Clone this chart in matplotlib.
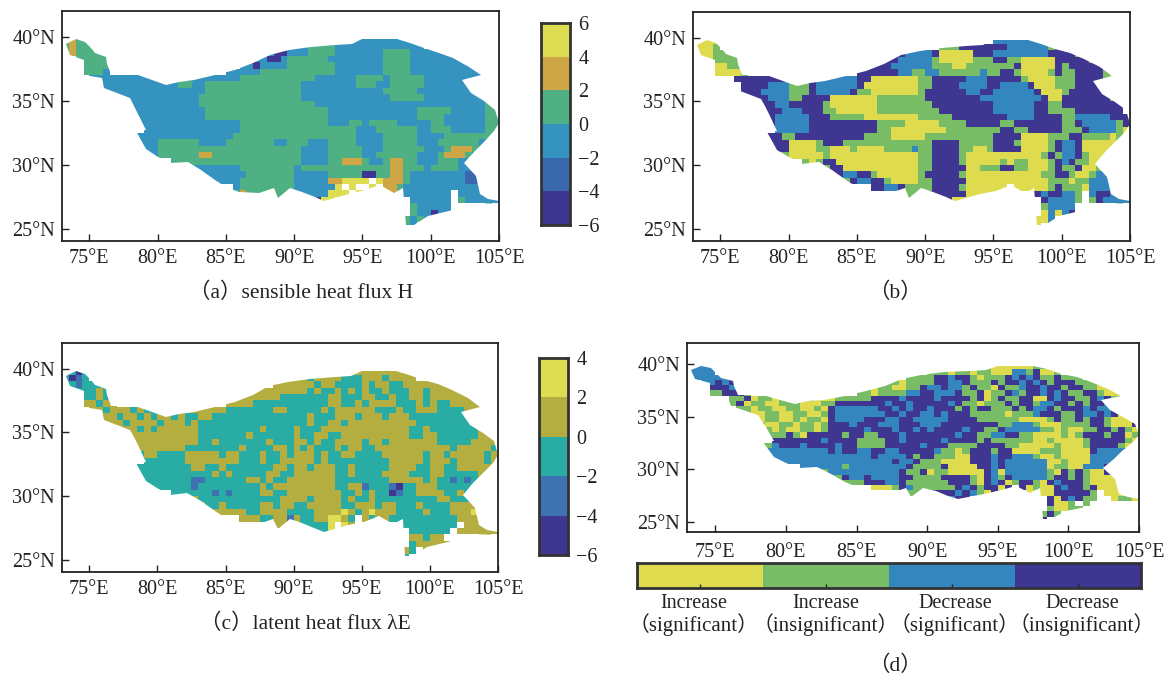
import numpy as np
import matplotlib
matplotlib.use('Agg')
import matplotlib.pyplot as plt
from matplotlib.colors import ListedColormap
from matplotlib.patches import Polygon

W, H = 1165, 679
serif = ['Liberation Serif', 'Noto Sans CJK SC', 'DejaVu Sans']
plt.rcParams['font.family'] = serif

lon_ticks = [75, 80, 85, 90, 95, 100, 105]
lat_ticks = [25, 30, 35, 40]

# plateau border, lon/lat
border_lon = [73.3, 74, 74.7, 75.1, 75.4, 76.25, 76.3, 76.6, 77.5, 78.6, 79.6, 80.65, 81.6, 82.7, 84.2, 85.7, 87, 88.2,
              89.6, 91.2, 93, 94.2, 95, 97.5, 98.5, 99.5, 100.6, 101.6, 102.8, 103.7, 102.3, 102.95, 103.9, 104.7,
              105, 104.6, 103.8, 103.2, 102.45, 103.3, 103.6, 104.2, 105, 105, 103.1, 101.6, 99.8, 98.8,
              98.2, 98, 97.3, 96.3, 95.2, 94, 92.2, 91.5, 90.6, 89.7, 88.85, 88.5, 87.45, 85.95, 85, 84.2, 83.2, 82.2,
              80.9, 80, 79.15, 78.4, 79.15, 78.6, 78.3, 78, 76.1, 75.9, 74.6, 74.6, 73.6]
border_lat = [39.4, 39.8, 39.6, 39.1, 38.7, 38.4, 37.9, 37.1, 37.05, 37, 36.6, 36.2, 36.45, 36.6, 37, 37.4, 37.95, 38.6,
              38.95, 39.2, 39.35, 39.4, 39.8, 39.8, 39.5, 39.1, 38.75, 38.3, 37.65, 37, 36.6, 35.6, 34.95, 34.3,
              33.25, 32.6, 31.7, 31, 30.1, 29.1, 27.7, 27.35, 27.15, 26.95, 27, 26.5, 26, 25.3,
              25.3, 28.2, 27.8, 28.45, 28, 27.7, 27.15, 27.5, 27.9, 28.2, 27.4, 28.2, 27.8, 27.9, 28.3, 28.8, 29.6, 30.25,
              30.1, 30.6, 31.2, 32.6, 32.7, 34, 34.6, 35.2, 36, 36.75, 37, 38.2, 38.6]

# half degree cells, north to south; groups are 73-75, 75-80, 80-85 ... 100-105E
grid_a = [
    "gogg .......... .......... .......... ........bb bbbbbbb... ..........",
    "gogg gg........ .......... .......... bbggggbbbb bbbbbbbbb. ..........",
    "gogg gggg...... .......... ......bddb bbggggbbbb bbbggggbbb bbb.......",
    "..gg gggg...... .......... ....bbddbg gggggbbbbb bbbggggbbb bbbbb.....",
    "...g ggg....... .......... ..bbdbbbbg ggggggbbbb bbbggggbbb bbbbbbb...",
    "...g ggb....... .......... bbbbbggggg ggggggbbbb bbbggggbbb bbbbbbbbb.",
    ".... bbbbbbbbbb bbbbbbbbbb bbgggggggg gggbbbbbbg gggbgggggb bbbbbbbb..",
    ".... ..bbbbbbbb bbbggbbggg gggggggggg gbbbbbbbbg ggbbgggggb bbbbbbbb..",
    ".... ..bbbbbbbb bbbbbbbggg gggggggggg gbbbbbbbbb bbbgggggbb bbbbbbbbb.",
    ".... ....bbbbbb bbbbbbgggg gggggggggg gbbbbbbbbb bbbbgggggb bbbbbbbbbb",
    ".... ......bbbb bbbbbbgggg gggggggggg gggbbbbbbb bbbbbbbbbb bbbbbbbbgg",
    ".... ......bbbb bbbbbbbggg gggggggggg gggggbbbbb bbbbbbbbgg gggbbbbbgg",
    ".... ......bbbb bbbbbbbggg gggggggggg gggggbbbbb bbbbbbbbgg ggbbbbbbgg",
    ".... ......bbbb bbbbbbbbbb bbgggggggg gggggbbbgg bggggbbbbb ggbbbbbbgg",
    ".... ........bb bbbbbbbbbb bbgggggggg gggggggggb bbggggggbb gggbbbbbgg",
    ".... ......bbbb bbbbbbbbbb bggggggggg gggggggggb bbbgggggbb bbgggggggb",
    ".... ......bbbb ggggggbbbb gggggggbbg ggbbbggggb bbbgggggbb bggggggbb.",
    ".... ......bbbb gggggggggg gggggggggg gbbbbggggg bbbggggggb bbgooogbb.",
    ".... ........bb ggggggoogg gggggggggg gbbbbggggg bbggggggbb bgooogbb..",
    ".... .......... ..gggggggg gggggggggg gbbbbggooo gbbgooggbb bgggbb....",
    ".... .......... ....gbbbbb bbgggggggg bggggggggg ggggoogggb ggggbbb...",
    ".... .......... .....bbbbb bbbggggggg bbbbbggggg ddggoogbbb bbbbbmmmm.",
    ".... .......... ........bb bbgggggggg bbbbbooyyy y.yooogbbb bbbbbmmmb.",
    ".... .......... .......... .bgggggggg bbbbbby.y. .y.oogbbbb bbbbbbbbb.",
    ".... .......... .......... ggoggggggg bbbbbyyy.y y.ooogbbbb bbb.bbbbbb",
    ".... .......... .......... .......gg. ..bdyy.... .......bbb bbb.gbbbbb",
    ".... .......... .......... .......... .......... .......gbb bbb.....g.",
    ".... .......... .......... .......... .......... .......gbb dbb.....g.",
    ".... .......... .......... .......... .......... ......gbgb b.b.......",
    ".... .......... .......... .......... .......... ......gb.. ..........",
]

grid_b = [
    "yyyy .......... .......... .......... .......... bbbbbbbb.. ..........",
    "yyyg .......... .......... .......... ..gggddddd ddbbbbbbgd dd........",
    "yyyg gggg...... .......... ......dbbb bdyyyyyddd bbbbbbbbdd ddgg......",
    "..yg gggg...... .......... ..ddddbbbb bgyyyyyggg ddggyyyyyd ddddgg....",
    "...y yggg...... .......... dddddbbbbb bgggyygggg gggdyyyyyd gddddddg..",
    "...y yyyg...... .......... ddddddbbgg bbggggggbg gddgyyyygd ggddddgyy.",
    ".... ..dddddddd gggdbbbbbb ddyyyyyyyg gdddddbbbd ddddgyyyyg ggddddgg..",
    ".... ...ddddbbb gggdbbbbbb dyyyyyyyyg gddddbbbbd dbbbbdyyyg ggddddggg.",
    ".... ...dddbbbb gggdbbbbbd ggyyyyyyyg ddddddbbdd bbbbbbdyyy gdddddggg.",
    ".... ....dddbbb ggddddyyyy yyyggggggg ddddddddbb bbbbbbbdyy dddddddggg",
    ".... ......ddbb dddddgyyyy yyyggggggg gddddddddd bbbbbbddgg dddddddddg",
    ".... ......dddb bbdddggyyy yyyggggggg ggdddddddd bbbbbbddgg ggddddddd.",
    ".... ......ddbb bbbdddgggg gyyyyyyyyg ggggdddddd ddbbbbdddd ggbbbbbddd",
    ".... ......ddbb bbbddddddd dddggggyyy yyggggdddd dggddddddd ggdbbbbbgd",
    ".... ........bb bbbddddddd dddggyyyyy yyyggggggg gddggddddd gggdbbbbgy",
    ".... ......dddg gddddddddd dggggyyyyy gggggggggg ddddyyyygg gddggggygy",
    ".... ......dddd yyyygdddgg gggggggggg gddddggggg dddgyyyygd bbdyyyyyyg",
    ".... ......dddd yyyyggyyyg yyyyggggbg gddddggyyg ddddyyyygd bbdyyyyyyy",
    ".... ........gg yyyyygyyyy yyyyyyyyyg gddddgyyyy yyyyyyygdg bbdgyyyyy.",
    ".... .......... ..gygddyyy yyyyyyyyyg gddddgyyyy ygyggyyygd bdggyygd..",
    ".... .......... ....ggddyy yyyyyyyyyg gdddddyygg gddggyyygd ggdyygy...",
    ".... .......... .....gddbb ddgyyyyyyg dddddgyyyy yyyyyyyggd dgyygbbbb.",
    ".... .......... ........gd bbddgyyyyg gdddddyyyy yyyyyyyygg gyggbbbbb.",
    ".... .......... .......... ..ddbbdggg gddddgyyyy yy.yyyyygd gggybbbbg.",
    ".... .......... .......... .......ggd ddddddyyyy yyy...dbdd bbg.bddbbb",
    ".... .......... .......... .......gg. ...dyyyy.. .......dbb bbg.gdbbbb",
    ".... .......... .......... .......... .......... .......gbb bb......g.",
    ".... .......... .......... .......... .......... .......yby bd.....g..",
    ".... .......... .......... .......... .......... ......yyb. ..........",
    ".... .......... .......... .......... .......... ......y... ..........",
]

grid_c = [
    "ttdt .......... .......... .......... ........oo oooooooo.. ..........",
    "tdbt .......... .......... ........oo ootoooottt oootoooo.. ..........",
    "ttbt ttto...... .......... .......ooo oootootttt otoottoooo ooo.......",
    "..tt totoo..... .......... ....oooooo ootottotot ottotttoot ooooo.....",
    "...t tottt..... .......... ..oooooott tttttoottt oottottoot oooooo....",
    "...o otoo...... .......... ooootttttt tttttootto tooootttot ottoooooo.",
    ".... ootoootott tottoooooo tttttttoot ttttotoooo ootttottoo ottttoooo.",
    ".... ..ootootot ootottoott tttttttttt ttotttooot oootooottt tttttttto.",
    ".... ..oootoooo tooototttt tttttttttt ttottootoo oooooooott ttttttttoo",
    ".... ....oootot ooooootttt tttttotttt otttoooooo oooooootto tttttttoot",
    ".... ......oooo ooooootttt tttotttttt ottoottooo oooooootto ottttttoot",
    ".... ......oooo oooooottot ttttttottt ootottoooo tootoooooo otttttoooo",
    ".... ......oooo ooootttttt ttottttoot ototttotoo ttoooooooo oootooooot",
    ".... ......ttoo ttttooooot ootttottot oootottoot tttoooooot ootoooooto",
    ".... ........tt ttttoooooo ootttottoo oootottttt ttttooooot oootooooto",
    ".... ......ottt tttttootto tttttttoot ootooottot ttttoooott oottoooooo",
    ".... ......ottt ttttttttot otttttoott oooooottot tttoooottt ootttttooo",
    ".... ......oott tttttbbttt tttoototto ooooootttt ttttooooot ottbtbttoo",
    ".... ........tt tttttbtttt tttttotooo oooooottoo btttbdttoo ottttttoo.",
    ".... .......... ..ttttttbt bttttootto oooooootto tottdbttoo oottotto..",
    ".... .......... ....ootttt ttttttttoo ootooootot totttttttt toottt....",
    ".... .......... .....ootto tttttootoo ttoooootto ootootttot tttoooooo.",
    ".... .......... ........oo ooottoooot tttooooyot oyoootttto tttoooyoo.",
    ".... .......... .......... ..ooottoob ottooyyot. otootttttt ttttoooooo",
    ".... .......... .......... .......oo. ttttty.yo. .....ttttt tttt.ooooo",
    ".... .......... .......... .......... ..ttty.... .......ttt ttt.oooooo",
    ".... .......... .......... .......... .......... .......oot oo.....oo.",
    ".... .......... .......... .......... .......... .......too ooo....ot.",
    ".... .......... .......... .......... .......... ......ot.o .o........",
    ".... .......... .......... .......... .......... ......t... ..........",
]

grid_d = [
    "bbbb .......... .......... .......... ......yygy yyyyygg... ..........",
    "bbbb .......... .......... .......... gggyggyggy yybbgdyyg. ..........",
    "bbbb bbd....... .......... .......ggg gddbddgygg gdbdbdggdg gg........",
    "..bb dbdd...... .......... ....ggyggg gddbbdgggd gddbdbdgdd dgggg.....",
    "...d ddbd...... .......... ..yggyyggd bbdbbgdggy dggbddbddg ddggyy....",
    "...g gdddg..... .......... ggyggggbbd dbbbdggdyg gdbgddbdbd ggddgyyyd.",
    ".... ..ggdyggyg ybdbyyyggg ggddddbddd dbddddgdyg dggddyydbd dggdbdgg..",
    ".... ..gdyggyyg ggyyyggddd ddddbddbdd dddbdggygg gdgddgbbdd gdgddbdgg.",
    ".... ...ggyggyy ggyygydbbb bbbddbdbdd bdddgdgddg ggdgdbbdgd ddbdbbdddd",
    ".... ....gyyggy yggyygdbbb bbbbddbddb bdbdddgggg gygggbdddg gdbbdbdyyd",
    ".... ......yggy ygyggydbbb bdddbbddbb bbbddddggg gggyyyygdg gdgddgyyyb",
    ".... ......gyyg gyggygdddb dddbbbdddb bbdddddddd ggbbbgyyyg gggddgyyyd",
    ".... ......ygyg yyggygdddd dbdddbddbd bddddbddgg dbbbbbggyg yyggddgdgy",
    ".... ......yggg dgydddddgd dggdddbddd ddddbddggb bddggyyyyg ygdddgddyg",
    ".... ........dd dddddbdddd ggggddbddd ddbddddgdg gggggyygyy yygdddddgy",
    ".... ......ggbd ddbddddbdd ggggdddddb dddggggddd dggyyyyygy yygddddgyg",
    ".... ......gbbb bbbbbbdbdd bbddbbdddd dbggygdddg ddyyyygggy yyydbbbbdg",
    ".... ......gbbb bbbbbbbbbb bbdbbbbdgd dgggyydddb ddbbbgyygy yyybbbbbgd",
    ".... ........bb bbbbbbbbbb bbbbbdbbdg ggyyyydddb dbbbbbbyyg yyybbbbbg.",
    ".... .......... ..bbbbbbgb bbbbbbbdgg ggdyyyyddb dbbbbbbygg yybbbdg...",
    ".... .......... ....ggbbbb bbbbbbdggd yggyyyyydb ybbbbbbgyd gdgyydg...",
    ".... .......... .....gggdb bdbbbbddgg ggddddgydb gdbbbbbgdd gdgyyyyy..",
    ".... .......... ........gg gdddbbdggg gggdddgydb dygddgydbd ddgyyyyyy.",
    ".... .......... .......... ..yyygdbgg ggggdbdgdd yd.dygyydb ddgdyyyyyg",
    ".... .......... .......... .......ggg ddddbdbgyd g...yyyydd dddg.yyyyg",
    ".... .......... .......... .......... ..dbdd.... .......dyd bdgg..yggy",
    ".... .......... .......... .......... .......... .......dyy g.g.....y.",
    ".... .......... .......... .......... .......... .......gyy gg..gy.y..",
    ".... .......... .......... .......... .......... ......gdg. ...g......",
    ".... .......... .......... .......... .......... ......d... ..........",
]

# class letter -> colour, per panel
colors_a = {'y': '#dedd52', 'o': '#cfa645', 'g': '#4fb083', 'b': '#3593c0', 'm': '#3a68ad', 'd': '#3e3690'}
colors_b = {'y': '#dfdb4e', 'g': '#79bc66', 'b': '#3487be', 'd': '#3e3690'}
colors_c = {'y': '#dedd52', 'o': '#b3ae3f', 't': '#28aca4', 'b': '#3e72b0', 'd': '#3e3690'}

cbar_a_levels = [6, 4, 2, 0, -2, -4, -6]
cbar_a_colors = ['#dedd52', '#cfa645', '#4fb083', '#3593c0', '#3a68ad', '#3e3690']
cbar_c_levels = [4, 2, 0, -2, -4, -6]
cbar_c_colors = ['#dedd52', '#b3ae3f', '#28aca4', '#3e72b0', '#3e3690']

legend_names = ['Increase', 'Increase', 'Decrease', 'Decrease']
legend_notes = ['（significant）', '（insignificant）', '（significant）', '（insignificant）']
legend_colors = ['#dfdb4e', '#79bc66', '#3487be', '#3e3690']

fig = plt.figure(figsize=(W / 100, H / 100), dpi=100)


def box(x0, y0, x1, y1):
    return fig.add_axes([x0 / W, 1 - y1 / H, (x1 - x0) / W, (y1 - y0) / H])


def parse(rows, keys):
    sizes = [4, 10, 10, 10, 10, 10, 10]
    out = np.full((len(rows), 64), np.nan)
    for i, row in enumerate(rows):
        line = ''.join(c.ljust(n, '.')[:n] for c, n in zip(row.split(), sizes))
        for j, c in enumerate(line):
            if c in keys:
                out[i, j] = keys.index(c)
    return np.ma.masked_invalid(out)


def draw_map(ax, rows, colors, tick_pad=6):
    keys = list(colors)
    lon_edges = np.arange(73, 105.25, 0.5)
    lat_edges = np.arange(40, 24.75, -0.5)
    mesh = ax.pcolormesh(lon_edges, lat_edges, parse(rows, keys), cmap=ListedColormap(list(colors.values())),
                         vmin=-0.5, vmax=len(keys) - 0.5)
    outline = Polygon(np.column_stack([border_lon, border_lat]), transform=ax.transData, fc='none', ec='none')
    ax.add_patch(outline)
    mesh.set_clip_path(outline)
    ax.set_xlim(73, 105)
    ax.set_ylim(24.05, 42)
    ax.set_xticks(lon_ticks)
    ax.set_xticklabels(['%d°E' % v for v in lon_ticks])
    ax.set_yticks(lat_ticks)
    ax.set_yticklabels(['%d°N' % v for v in lat_ticks])
    ax.tick_params(direction='in', length=5, width=1, labelsize=14.5, pad=tick_pad, color='#222222', labelcolor='#222222')
    ax.tick_params(axis='y', pad=5)
    for s in ax.spines.values():
        s.set_linewidth(1.3)
        s.set_color('#222222')


def draw_cbar(ax, levels, cols):
    ax.pcolormesh([0, 1], levels, np.arange(len(cols)).reshape(-1, 1), cmap=ListedColormap(cols),
                  vmin=-0.5, vmax=len(cols) - 0.5)
    ax.set_ylim(levels[-1], levels[0])
    ax.set_xticks([])
    ax.yaxis.tick_right()
    ax.set_yticks(levels)
    ax.set_yticklabels([str(v).replace('-', '−') for v in levels])
    ax.tick_params(length=0, labelsize=14.5, pad=6, labelcolor='#222222')
    for s in ax.spines.values():
        s.set_linewidth(2)
        s.set_color('#333333')


def label(x, y, s, size=14.5):
    fig.text(x / W, 1 - y / H, s, ha='center', va='center', fontsize=size, color='#222222', family=serif)


draw_map(box(62, 11, 499, 241), grid_a, colors_a)
draw_map(box(693, 12, 1130, 241), grid_b, colors_b)
draw_map(box(62, 343, 498, 572), grid_c, colors_c)
draw_map(box(687, 343, 1139, 532), grid_d, colors_b, tick_pad=8)

draw_cbar(box(541, 23, 570, 225), cbar_a_levels, cbar_a_colors)
draw_cbar(box(539, 358, 568, 555), cbar_c_levels, cbar_c_colors)

ax = box(637, 563, 1141, 588)
ax.pcolormesh(np.arange(5), [0, 1], np.arange(4).reshape(1, -1), cmap=ListedColormap(legend_colors), vmin=-0.5, vmax=3.5)
ax.set_xticks(np.arange(4) + 0.5)
ax.set_xticklabels([])
ax.set_yticks([])
ax.tick_params(direction='in', length=3, width=1, color='#222222')
for s in ax.spines.values():
    s.set_linewidth(2)
    s.set_color('#333333')

legend_x = [694, 826, 955, 1082]
for x, name, note in zip(legend_x, legend_names, legend_notes):
    label(x, 604, name)
    label(x, 625, note, size=15)

label(301, 293, '（a）sensible heat flux H', size=15.5)
label(895, 293, '（b）', size=15.5)
label(305, 624, '（c）latent heat flux λE', size=15.5)
label(895, 666, '（d）', size=15.5)

fig.savefig('out.png', dpi=100)
plt.close()
